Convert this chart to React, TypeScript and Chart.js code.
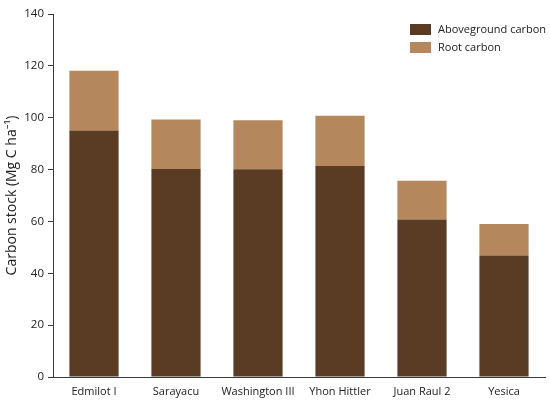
import React, { useEffect, useRef } from "react";
import { Chart, registerables } from "chart.js";

Chart.register(...registerables);

const categories = ["Edmilot I", "Sarayacu", "Washington III", "Yhon Hittler", "Juan Raul 2", "Yesica"];
const abovegroundCarbon = [95.1, 80.2, 80.1, 81.4, 60.7, 46.9];
const rootCarbon = [23.0, 19.1, 18.9, 19.4, 15.0, 12.1];
const yTicks = [0, 20, 40, 60, 80, 100, 120, 140];

const DARK = "#5a3b23";
const LIGHT = "#b5875d";
const AXIS = "#3a3a3a";
const FONT = "'Open Sans', 'Noto Sans', sans-serif";

const legendPlugin = {
  id: "customLegend",
  afterDraw(chart: any) {
    const { ctx, chartArea } = chart;
    const x0 = chartArea.right - 135;
    let y0 = chartArea.top + 10;
    ctx.save();
    ctx.font = `11px ${FONT}`;
    ctx.textBaseline = "middle";
    chart.data.datasets.forEach((ds: any) => {
      ctx.fillStyle = ds.backgroundColor;
      ctx.fillRect(x0, y0, 21, 11);
      ctx.fillStyle = "#222";
      ctx.fillText(ds.label, x0 + 28, y0 + 6);
      y0 += 18;
    });
    ctx.restore();
  },
};

export default function App() {
  const ref = useRef<HTMLCanvasElement>(null);
  useEffect(() => {
    document.body.style.margin = "0";
    const chart = new Chart(ref.current!, {
      type: "bar",
      data: {
        labels: categories,
        datasets: [
          { label: "Aboveground carbon", data: abovegroundCarbon, backgroundColor: DARK, categoryPercentage: 1, barPercentage: 0.6 },
          { label: "Root carbon", data: rootCarbon, backgroundColor: LIGHT, categoryPercentage: 1, barPercentage: 0.6 },
        ],
      },
      options: {
        animation: false,
        responsive: false,
        devicePixelRatio: 1,
        layout: { padding: { top: 14, right: 5, left: 0, bottom: 0 } },
        plugins: { legend: { display: false }, tooltip: { enabled: false } },
        scales: {
          x: {
            stacked: true,
            grid: { display: true, drawOnChartArea: false, drawTicks: false },
            border: { display: true, color: AXIS, width: 1 },
            ticks: { color: "#222", font: { family: FONT, size: 11 }, padding: 8, maxRotation: 0, autoSkip: false },
            afterFit(scale: any) { scale.height = 30; },
          },
          y: {
            stacked: true,
            min: 0,
            max: 140,
            afterBuildTicks(scale: any) { scale.ticks = yTicks.map((v) => ({ value: v })); },
            grid: { display: true, drawOnChartArea: false, drawTicks: true, tickLength: 5, color: AXIS },
            border: { display: true, color: AXIS, width: 1 },
            ticks: { color: "#222", font: { family: FONT, size: 11.5 }, padding: 4 },
            title: {
              display: true,
              text: "Carbon stock (Mg C ha⁻¹)",
              color: "#222",
              font: { family: FONT, size: 14 },
              padding: { top: 4, bottom: 0 },
            },
            afterFit(scale: any) { scale.width = 53; },
          },
        },
      },
      plugins: [legendPlugin],
    });
    return () => chart.destroy();
  }, []);
  return (
    <div style={{ position: "absolute", left: 0, top: 0, width: 550, height: 407, background: "#fff" }}>
      <canvas ref={ref} width={550} height={407} />
    </div>
  );
}
